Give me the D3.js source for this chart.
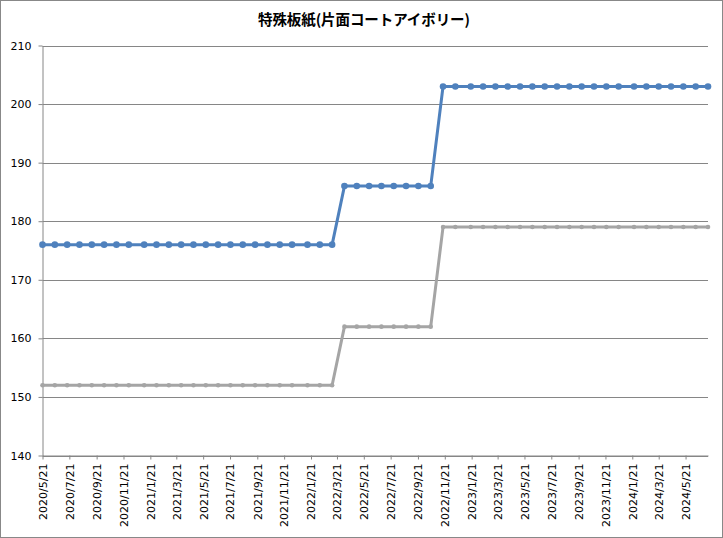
<!DOCTYPE html>
<html lang="ja">
<head>
<meta charset="UTF-8">
<title>特殊板紙(片面コートアイボリー)</title>
<script src="https://cdn.jsdelivr.net/npm/d3@7"></script>
<style>
  body { margin: 0; background: #fff; }
  svg text { font-family: "DejaVu Sans", Verdana, sans-serif; }
</style>
</head>
<body>
<div id="container"></div>
<script>
// data: survey dates (every 4-5 weeks) and prices
const dates = [
  '2020/5/21','2020/6/18','2020/7/16','2020/8/13','2020/9/10','2020/10/8','2020/11/5','2020/12/3',
  '2021/1/7','2021/2/4','2021/3/4','2021/4/1','2021/4/29','2021/5/27','2021/6/24','2021/7/22',
  '2021/8/19','2021/9/16','2021/10/14','2021/11/11','2021/12/9',
  '2022/1/13','2022/2/10','2022/3/10','2022/4/7','2022/5/5','2022/6/2','2022/6/30','2022/7/28',
  '2022/8/25','2022/9/22','2022/10/20','2022/11/17','2022/12/15',
  '2023/1/19','2023/2/16','2023/3/16','2023/4/13','2023/5/11','2023/6/8','2023/7/6','2023/8/3',
  '2023/8/31','2023/9/28','2023/10/26','2023/11/23','2023/12/21',
  '2024/1/25','2024/2/22','2024/3/21','2024/4/18','2024/5/16','2024/6/13','2024/7/11'
];
const blueValues = [
  176,176,176,176,176,176,176,176,
  176,176,176,176,176,176,176,176,
  176,176,176,176,176,
  176,176,176,186,186,186,186,186,
  186,186,186,203,203,
  203,203,203,203,203,203,203,203,
  203,203,203,203,203,
  203,203,203,203,203,203,203
];
const grayValues = [
  152,152,152,152,152,152,152,152,
  152,152,152,152,152,152,152,152,
  152,152,152,152,152,
  152,152,152,162,162,162,162,162,
  162,162,162,179,179,
  179,179,179,179,179,179,179,179,
  179,179,179,179,179,
  179,179,179,179,179,179,179
];
const xTickLabels = [
  '2020/5/21','2020/7/21','2020/9/21','2020/11/21',
  '2021/1/21','2021/3/21','2021/5/21','2021/7/21','2021/9/21','2021/11/21',
  '2022/1/21','2022/3/21','2022/5/21','2022/7/21','2022/9/21','2022/11/21',
  '2023/1/21','2023/3/21','2023/5/21','2023/7/21','2023/9/21','2023/11/21',
  '2024/1/21','2024/3/21','2024/5/21'
];
const yTicks = [140,150,160,170,180,190,200,210];
const title = '特殊板紙(片面コートアイボリー)';

const W = 723, H = 538;
const plot = {left: 42.5, right: 708, top: 45.5, bottom: 455.5};
const parse = d3.timeParse('%Y/%-m/%-d');

let svg = d3.select('#container')
    .append('svg')
    .attr('width', W)
    .attr('height', H)
    .attr('viewBox', '0 0 ' + W + ' ' + H);

// outer frame
svg.append('rect')
    .attr('x', 0.5).attr('y', 0.5)
    .attr('width', W - 1).attr('height', H - 1)
    .attr('fill', '#fff')
    .attr('stroke', '#888');

svg.append('text')
    .attr('x', 364)
    .attr('y', 20)
    .attr('dy', '0.35em')
    .attr('text-anchor', 'middle')
    .style('font-family', '"Noto Sans CJK JP", sans-serif')
    .style('font-weight', 'bold')
    .style('font-size', '14.5px')
    .attr('textLength', 212)
    .text(title);

let points = dates.map((d, i) => ({date: parse(d), blue: blueValues[i], gray: grayValues[i]}));

let x = d3.scaleTime()
    .domain(d3.extent(points, d => d.date))
    .range([plot.left, plot.right]);

let y = d3.scaleLinear()
    .domain([140, 210])
    .range([plot.bottom, plot.top]);

// horizontal gridlines
svg.append('g')
    .selectAll('line')
    .data(yTicks)
    .join('line')
    .attr('x1', plot.left)
    .attr('x2', plot.right)
    .attr('y1', d => Math.round(y(d)) + 0.5)
    .attr('y2', d => Math.round(y(d)) + 0.5)
    .attr('stroke', '#868686')
    .attr('stroke-width', 1);

// y axis
let yAxis = svg.append('g')
    .attr('transform', 'translate(' + plot.left + ',0)')
    .call(d3.axisLeft(y).tickValues(yTicks).tickSizeInner(4).tickSizeOuter(0).tickPadding(7));
yAxis.selectAll('path, line').attr('stroke', '#868686');
yAxis.selectAll('text').style('font-size', '11px').attr('fill', '#000');

// x axis
let xAxis = svg.append('g')
    .attr('transform', 'translate(0,' + plot.bottom + ')')
    .call(d3.axisBottom(x)
        .tickValues(xTickLabels.map(parse))
        .tickFormat(d3.timeFormat('%Y/%-m/%-d'))
        .tickSizeInner(4)
        .tickSizeOuter(0));
xAxis.selectAll('path, line').attr('stroke', '#868686');
xAxis.selectAll('text')
    .style('font-size', '11px')
    .attr('fill', '#000')
    .attr('transform', 'rotate(-90)')
    .attr('x', -8)
    .attr('y', 0)
    .attr('dy', '0.35em')
    .style('text-anchor', 'end');

// series
let series = [
    {key: 'gray', color: '#A5A5A5', r: 2.3},
    {key: 'blue', color: '#4F81BD', r: 3.3}
];

series.forEach(s => {
    let line = d3.line()
        .x(d => x(d.date))
        .y(d => y(d[s.key]));

    svg.append('path')
        .datum(points)
        .attr('d', line)
        .attr('fill', 'none')
        .attr('stroke', s.color)
        .attr('stroke-width', 3)
        .attr('stroke-linejoin', 'round')
        .attr('stroke-linecap', 'round');

    svg.append('g')
        .selectAll('circle')
        .data(points)
        .join('circle')
        .attr('cx', d => x(d.date))
        .attr('cy', d => y(d[s.key]))
        .attr('r', s.r)
        .attr('fill', s.color);
});
</script>
</body>
</html>
